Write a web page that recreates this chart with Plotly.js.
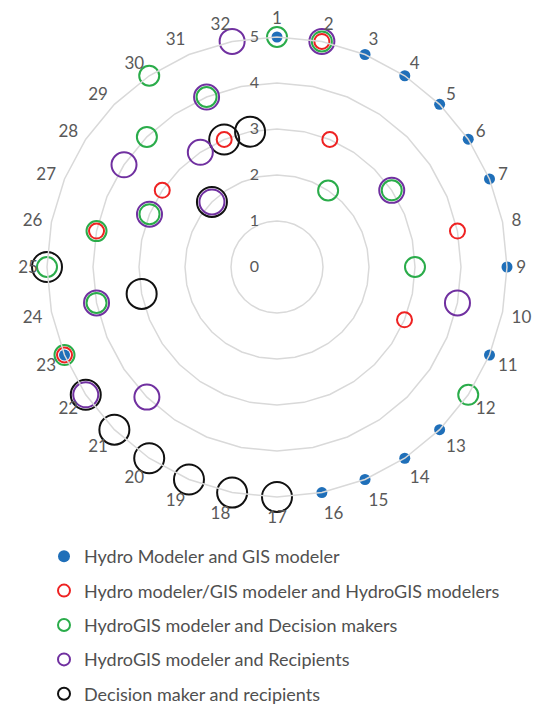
<!DOCTYPE html>
<html>
<head>
<meta charset="utf-8">
<script src="https://cdn.plot.ly/plotly-3.0.1.min.js"></script>
<style>
html,body{margin:0;padding:0;background:#fff;}
#chart{width:541px;height:704px;}
</style>
</head>
<body>
<div id="chart"></div>
<script>
const categories = ["1","2","3","4","5","6","7","8","9","10","11","12","13","14","15","16",
                    "17","18","19","20","21","22","23","24","25","26","27","28","29","30","31","32"];
const radialTicks = [0, 1, 2, 3, 4, 5];

const seriesNames = [
  "Hydro Modeler and GIS modeler",
  "Hydro modeler/GIS modeler and HydroGIS modelers",
  "HydroGIS modeler and Decision makers",
  "HydroGIS modeler and Recipients",
  "Decision maker and recipients"
];

const hydroGis      = [5,0,5,5,5,5,5,0,5,0,5,0,5,5,5,5,0,0,0,0,0,0,5,0,0,0,0,0,0,0,0,0];
const modelerHydro  = [0,5,3,0,0,0,0,4,0,0,3,0,0,0,0,0,0,0,0,0,0,0,5,0,0,4,0,3,0,0,3,0];
const hydroDecision = [5,5,0,2,0,3,0,0,3,0,0,5,0,0,0,0,0,0,0,0,0,0,5,4,5,4,3,0,4,5,4,0];
const hydroRecip    = [0,5,0,0,0,3,0,0,0,4,0,0,0,0,0,0,0,0,0,0,4,5,0,4,0,0,3,4,2,3,4,5];
const decisionRecip = [0,0,0,0,0,0,0,0,0,0,0,0,0,0,0,0,5,5,5,5,5,5,0,3,5,0,0,0,2,0,3,3];

const colors = ["#1f6fb9", "#ee2222", "#2aac4a", "#7030a0", "#111111"];
const sizes  = [11, 15, 20, 25, 30];

function mk(i, vals, filled) {
  return {
    type: "scatterpolar",
    mode: "markers",
    name: seriesNames[i],
    legendgroup: "g" + i,
    legendrank: i + 1,
    r: vals,
    theta: categories,
    marker: {
      symbol: "circle",
      size: sizes[i],
      color: filled ? colors[i] : "rgba(0,0,0,0)",
      line: {color: colors[i], width: filled ? 0 : 2}
    },
    hoverinfo: "r+theta+name"
  };
}

// draw order: largest first so small markers stay visible
const data = [
  mk(4, decisionRecip, false),
  mk(3, hydroRecip, false),
  mk(2, hydroDecision, false),
  mk(1, modelerHydro, false),
  mk(0, hydroGis, true)
];

const W = 541, H = 704;
const layout = {
  width: W, height: H,
  margin: {l: 0, r: 0, t: 0, b: 0, autoexpand: false},
  paper_bgcolor: "#ffffff",
  font: {family: "Lato, 'Open Sans', sans-serif", color: "#595959"},
  showlegend: true,
  legend: {
    orientation: "v",
    x: 44 / W, xanchor: "left",
    y: 1 - 538 / H, yanchor: "top",
    traceorder: "grouped",
    tracegroupgap: 8,
    itemsizing: "constant",
    font: {size: 18, color: "#505050", family: "Lato, 'Open Sans', sans-serif"},
    bgcolor: "rgba(0,0,0,0)"
  },
  polar: {
    domain: {x: [47 / W, 507 / W], y: [1 - 497 / H, 1 - 37 / H]},
    bgcolor: "rgba(0,0,0,0)",
    gridshape: "linear",
    radialaxis: {
      range: [-0.0001, 5],
      tickvals: radialTicks,
      ticktext: radialTicks.map(String),
      angle: 90,
      tickangle: 90,
      side: "counterclockwise",
      showline: false,
      ticks: "outside",
      ticklen: 12,
      tickcolor: "rgba(0,0,0,0)",
      showgrid: true,
      gridcolor: "#d9d9d9",
      gridwidth: 1.5,
      tickfont: {size: 16, color: "#595959"}
    },
    angularaxis: {
      type: "category",
      categoryarray: categories,
      categoryorder: "array",
      rotation: 90,
      direction: "clockwise",
      showgrid: false,
      showline: true,
      linecolor: "#d9d9d9",
      linewidth: 1.5,
      ticks: "outside",
      ticklen: 5,
      tickcolor: "rgba(0,0,0,0)",
      tickfont: {size: 17, color: "#595959"}
    }
  }
};

Plotly.newPlot("chart", data, layout, {displayModeBar: false, staticPlot: true});
</script>
</body>
</html>
